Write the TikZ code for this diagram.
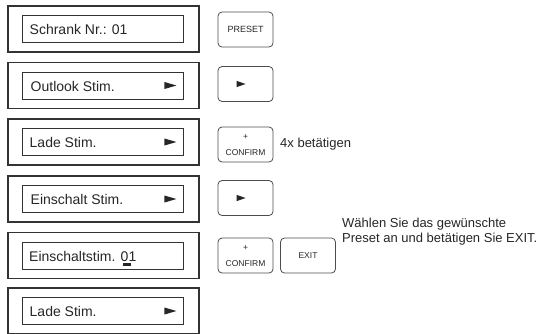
\documentclass[tikz,border=0pt]{standalone}
\usepackage{fontspec}
\setmainfont{Liberation Sans}
\begin{document}
\begin{tikzpicture}[x=1pt,y=-1pt,
  outer/.style={draw=black!80, line width=1.1pt, minimum width=191pt, minimum height=46pt, inner sep=0pt},
  inner/.style={draw=black!80, line width=0.9pt, minimum width=161pt, minimum height=27pt, inner sep=0pt},
  lbl/.style={font=\fontsize{14}{16}\selectfont, anchor=west, inner sep=0pt, text=black!85},
  btn/.style={draw=black!70, line width=0.8pt, rounded corners=4pt, minimum width=55pt, minimum height=35pt, inner sep=0pt},
  btxt/.style={font=\fontsize{8.5}{9}\selectfont, inner sep=0pt, text=black!85},
  note/.style={font=\fontsize{13}{15}\selectfont, anchor=west, inner sep=0pt, align=left, text=black!85},
  tri/.style={fill=black!85}]
\useasboundingbox (0,0) rectangle (548,333);
\begin{scope}
\clip (0,0) rectangle (548,333);
% outer and inner boxes
\foreach \i/\y in {1/29,2/85.5,3/142,4/199,5/255.5,6/311}{
  \node[outer] (o\i) at (103.5,\y) {};
  \node[inner] (in\i) at (102.5,\y) {};
}
\end{scope}
% labels
\node[lbl] (t1) at (29.5,29.5) {Schrank Nr.: 01};
\node[lbl] (t2) at (30.5,86) {Outlook Stim.};
\node[lbl] (t3) at (29.5,142.5) {Lade Stim.};
\node[lbl] (t4) at (30.5,199.5) {Einschalt Stim.};
\node[lbl] (t5) at (29,256) {Einschaltstim. 01};
\node[lbl] (t6) at (29.5,311.5) {Lade Stim.};
% cursor under 0
\fill[black!85] (123,263) rectangle (130.5,266);
% arrows in inner boxes
\foreach \i in {2,3,4,6}{
  \fill[tri] ([xshift=-19pt,yshift=3.5pt]in\i.east) -- ([xshift=-7pt]in\i.east) -- ([xshift=-19pt,yshift=-3.5pt]in\i.east) -- cycle;
}
% buttons
\node[btn] (b1) at (245.5,29.5) {};
\node[btxt, font=\fontsize{9}{10}\selectfont] (b1t) at (b1) {PRESET};
\node[btn] (b2) at (245.5,84) {};
\fill[tri] ([xshift=-9pt,yshift=3.2pt]b2.center) -- ([xshift=0pt]b2.center) -- ([xshift=-9pt,yshift=-3.2pt]b2.center) -- cycle;
\node[btn] (b3) at (245.5,144.5) {};
\node[btxt] (b3p) at ([yshift=7.5pt]b3.center) {+};
\node[btxt] (b3t) at ([yshift=-8pt]b3.center) {CONFIRM};
\node[btn] (b4) at (245.5,198) {};
\fill[tri] ([xshift=-9pt,yshift=3.2pt]b4.center) -- ([xshift=0pt]b4.center) -- ([xshift=-9pt,yshift=-3.2pt]b4.center) -- cycle;
\node[btn] (b5) at (245.5,255.5) {};
\node[btxt] (b5p) at ([yshift=7.5pt]b5.center) {+};
\node[btxt] (b5t) at ([yshift=-8pt]b5.center) {CONFIRM};
\node[btn] (b6) at (308,255.5) {};
\node[btxt] (b6t) at (b6) {EXIT};
% notes
\node[note] (n1) at (280,144) {4x betätigen};
\node[note] (n2) at (342,232) {Wählen Sie das gewünschte\\Preset an und betätigen Sie EXIT.};
\end{tikzpicture}
\end{document}
